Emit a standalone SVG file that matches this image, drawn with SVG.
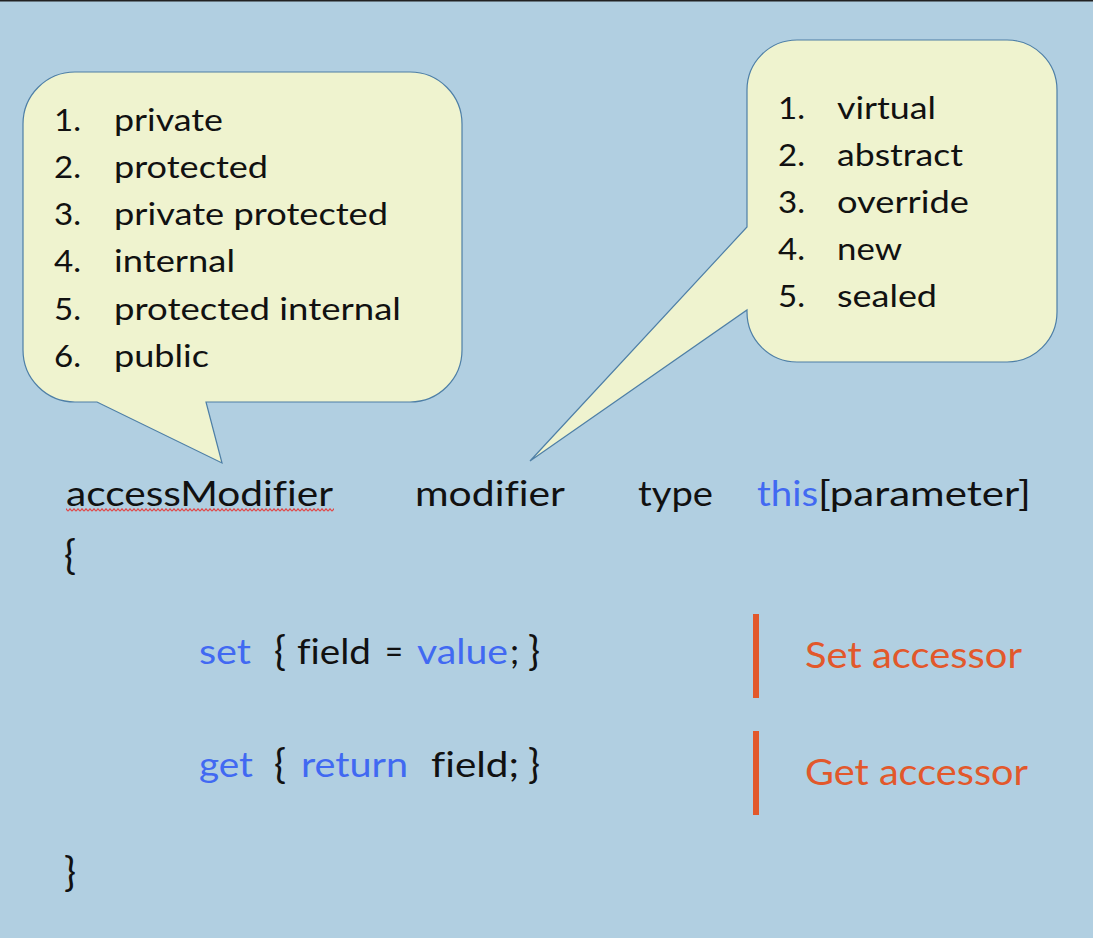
<svg xmlns="http://www.w3.org/2000/svg" width="1093" height="938" viewBox="0 0 1093 938">
  <style>
    text { font-family: Lato, "Open Sans", sans-serif; fill: #111111; font-variant-ligatures: none; font-feature-settings: "liga" 0; }
    .c { font-size: 31px; }
    .k { font-size: 35px; }
    .br { font-size: 40px; }
    .b { fill: #4169f2; }
    .o { font-size: 37px; fill: #e2582b; }
    .bubble { fill: #eff3cf; stroke: #4e7fa6; stroke-width: 1.2; }
  </style>
  <defs>
    <pattern id="squig" width="4" height="4" patternUnits="userSpaceOnUse">
      <path d="M0,3.2 L2,0.8 L4,3.2" fill="none" stroke="#e04848" stroke-width="1.2"/>
    </pattern>
  </defs>
  <rect x="0" y="0" width="1093" height="938" fill="#b1cfe1"/>
  <rect x="0" y="0" width="1093" height="1.5" fill="#222222"/>

  <g id="callout-access">
    <path class="bubble" d="M75,72 H410 A52 52 0 0 1 462 124 V350 A52 52 0 0 1 410 402 H206 L222 463 L97 402 H75 A52 52 0 0 1 23 350 V124 A52 52 0 0 1 75 72 Z"/>
    <text class="c" x="54" y="131" textLength="27" lengthAdjust="spacingAndGlyphs">1.</text>
    <text class="c" x="114" y="131" textLength="109" lengthAdjust="spacingAndGlyphs">private</text>
    <text class="c" x="54" y="178" textLength="27" lengthAdjust="spacingAndGlyphs">2.</text>
    <text class="c" x="114" y="178" textLength="154" lengthAdjust="spacingAndGlyphs">protected</text>
    <text class="c" x="54" y="225" textLength="27" lengthAdjust="spacingAndGlyphs">3.</text>
    <text class="c" x="114" y="225" textLength="274" lengthAdjust="spacingAndGlyphs">private protected</text>
    <text class="c" x="54" y="272" textLength="27" lengthAdjust="spacingAndGlyphs">4.</text>
    <text class="c" x="114" y="272" textLength="121" lengthAdjust="spacingAndGlyphs">internal</text>
    <text class="c" x="54" y="319.5" textLength="27" lengthAdjust="spacingAndGlyphs">5.</text>
    <text class="c" x="114" y="319.5" textLength="287" lengthAdjust="spacingAndGlyphs">protected internal</text>
    <text class="c" x="54" y="366.5" textLength="27" lengthAdjust="spacingAndGlyphs">6.</text>
    <text class="c" x="114" y="366.5" textLength="95" lengthAdjust="spacingAndGlyphs">public</text>
  </g>

  <g id="callout-modifier">
    <path class="bubble" d="M797,40 H1007 A50 50 0 0 1 1057 90 V312 A50 50 0 0 1 1007 362 H797 A50 50 0 0 1 747 312 V310 L530 461 L747 227 V90 A50 50 0 0 1 797 40 Z"/>
    <text class="c" x="778" y="119" textLength="27" lengthAdjust="spacingAndGlyphs">1.</text>
    <text class="c" x="837" y="119" textLength="99" lengthAdjust="spacingAndGlyphs">virtual</text>
    <text class="c" x="778" y="166" textLength="27" lengthAdjust="spacingAndGlyphs">2.</text>
    <text class="c" x="837" y="166" textLength="126" lengthAdjust="spacingAndGlyphs">abstract</text>
    <text class="c" x="778" y="213" textLength="27" lengthAdjust="spacingAndGlyphs">3.</text>
    <text class="c" x="837" y="213" textLength="132" lengthAdjust="spacingAndGlyphs">override</text>
    <text class="c" x="778" y="260" textLength="27" lengthAdjust="spacingAndGlyphs">4.</text>
    <text class="c" x="837" y="260" textLength="65" lengthAdjust="spacingAndGlyphs">new</text>
    <text class="c" x="778" y="307" textLength="27" lengthAdjust="spacingAndGlyphs">5.</text>
    <text class="c" x="837" y="307" textLength="100" lengthAdjust="spacingAndGlyphs">sealed</text>
  </g>

  <g id="signature">
    <text class="k" x="66" y="505.5" textLength="267" lengthAdjust="spacingAndGlyphs">accessModifier</text>
    <rect x="66" y="508" width="268" height="4" fill="url(#squig)"/>
    <text class="k" x="415" y="505.5" textLength="150" lengthAdjust="spacingAndGlyphs">modifier</text>
    <text class="k" x="638" y="505.5" textLength="75" lengthAdjust="spacingAndGlyphs">type</text>
    <text class="k b" x="757" y="505.5" textLength="61" lengthAdjust="spacingAndGlyphs">this</text>
    <text class="k" x="818" y="505.5" textLength="213" lengthAdjust="spacingAndGlyphs">[parameter]</text>
  </g>

  <g id="body">
    <text class="k br" x="64" y="569">{</text>
    <text class="k b" x="199" y="664" textLength="52" lengthAdjust="spacingAndGlyphs">set</text>
    <text class="k br" x="274" y="665">{</text>
    <text class="k" x="297" y="664" textLength="74" lengthAdjust="spacingAndGlyphs">field</text>
    <text class="k" x="385" y="664" textLength="18" lengthAdjust="spacingAndGlyphs">=</text>
    <text class="k b" x="417" y="664" textLength="91" lengthAdjust="spacingAndGlyphs">value</text>
    <text class="k" x="510" y="664">;</text>
    <text class="k br" x="528" y="665">}</text>

    <text class="k b" x="199" y="777" textLength="54" lengthAdjust="spacingAndGlyphs">get</text>
    <text class="k br" x="274" y="778">{</text>
    <text class="k b" x="301" y="777" textLength="107" lengthAdjust="spacingAndGlyphs">return</text>
    <text class="k" x="431" y="777" textLength="88" lengthAdjust="spacingAndGlyphs">field;</text>
    <text class="k br" x="528" y="778">}</text>

    <text class="k br" x="64" y="886">}</text>
  </g>

  <g id="set-accessor">
    <rect x="753" y="614" width="6" height="84" fill="#e2582b"/>
    <text class="o" x="805" y="668" textLength="217" lengthAdjust="spacingAndGlyphs">Set accessor</text>
  </g>
  <g id="get-accessor">
    <rect x="753" y="731" width="6" height="84" fill="#e2582b"/>
    <text class="o" x="805" y="785" textLength="223" lengthAdjust="spacingAndGlyphs">Get accessor</text>
  </g>
</svg>
